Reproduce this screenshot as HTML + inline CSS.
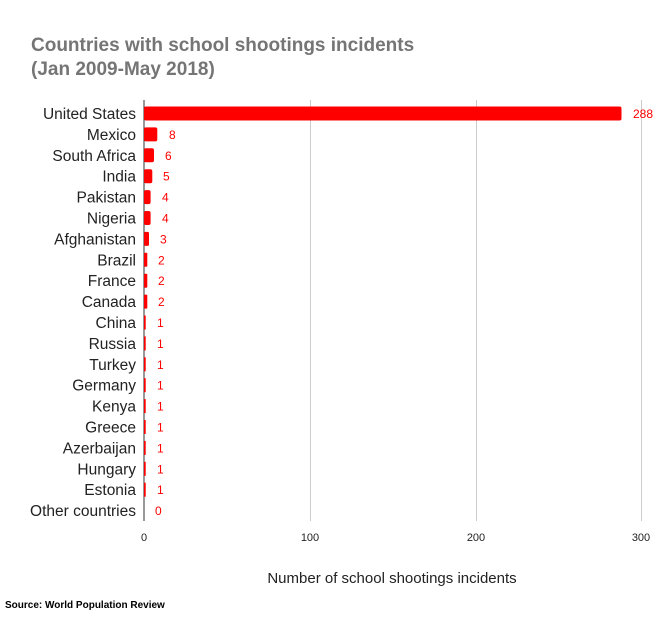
<!DOCTYPE html>
<html><head><style>body{margin:0;background:#fff}svg{display:block}</style></head><body>
<svg width="672" height="618" xmlns="http://www.w3.org/2000/svg" font-family="Liberation Sans, Arial, sans-serif">
<text x="31" y="51" font-size="19" font-weight="bold" fill="#757575">Countries with school shootings incidents</text>
<text x="31" y="75" font-size="19" font-weight="bold" fill="#757575">(Jan 2009-May 2018)</text>
<g stroke="#ccc" stroke-width="1">
<line x1="310.5" y1="100" x2="310.5" y2="521"/>
<line x1="476.5" y1="100" x2="476.5" y2="521"/>
<line x1="641.5" y1="100" x2="641.5" y2="521"/>
</g>
<line x1="144" y1="100" x2="144" y2="521" stroke="#333" stroke-width="1"/>
<g font-size="11" fill="#222" text-anchor="middle">
<text x="144" y="541">0</text><text x="310" y="541">100</text><text x="476" y="541">200</text><text x="641" y="541">300</text>
</g>
<text x="392" y="583" font-size="15" fill="#222" text-anchor="middle">Number of school shootings incidents</text>
<text x="5" y="608" font-size="10" font-weight="bold" fill="#000">Source: World Population Review</text>
<g font-size="15.5" fill="#222" text-anchor="end">
<text x="136" y="119">United States</text>
<text x="136" y="139.9">Mexico</text>
<text x="136" y="160.8">South Africa</text>
<text x="136" y="181.7">India</text>
<text x="136" y="202.6">Pakistan</text>
<text x="136" y="223.5">Nigeria</text>
<text x="136" y="244.4">Afghanistan</text>
<text x="136" y="265.3">Brazil</text>
<text x="136" y="286.2">France</text>
<text x="136" y="307.1">Canada</text>
<text x="136" y="328">China</text>
<text x="136" y="348.9">Russia</text>
<text x="136" y="369.8">Turkey</text>
<text x="136" y="390.7">Germany</text>
<text x="136" y="411.6">Kenya</text>
<text x="136" y="432.5">Greece</text>
<text x="136" y="453.4">Azerbaijan</text>
<text x="136" y="474.3">Hungary</text>
<text x="136" y="495.2">Estonia</text>
<text x="136" y="516.1">Other countries</text>
</g>
<g fill="#ff0000">
<rect x="144" y="106.5" width="477.5" height="14" rx="2"/>
<rect x="144" y="127.4" width="13.3" height="14" rx="2"/>
<rect x="144" y="148.3" width="10" height="14" rx="2"/>
<rect x="144" y="169.2" width="8.3" height="14" rx="2"/>
<rect x="144" y="190.1" width="6.6" height="14" rx="2"/>
<rect x="144" y="211" width="6.6" height="14" rx="2"/>
<rect x="144" y="231.9" width="5" height="14" rx="1.5"/>
<rect x="144" y="252.8" width="3.3" height="14" rx="1"/>
<rect x="144" y="273.7" width="3.3" height="14" rx="1"/>
<rect x="144" y="294.6" width="3.3" height="14" rx="1"/>
<rect x="144" y="315.5" width="1.7" height="14"/>
<rect x="144" y="336.4" width="1.7" height="14"/>
<rect x="144" y="357.3" width="1.7" height="14"/>
<rect x="144" y="378.2" width="1.7" height="14"/>
<rect x="144" y="399.1" width="1.7" height="14"/>
<rect x="144" y="420" width="1.7" height="14"/>
<rect x="144" y="440.9" width="1.7" height="14"/>
<rect x="144" y="461.8" width="1.7" height="14"/>
<rect x="144" y="482.7" width="1.7" height="14"/>
</g>
<g font-size="12" fill="#ff0000">
<text x="633" y="118">288</text>
<text x="169" y="138.9">8</text>
<text x="165" y="159.8">6</text>
<text x="163" y="180.7">5</text>
<text x="162" y="201.6">4</text>
<text x="162" y="222.5">4</text>
<text x="160" y="243.4">3</text>
<text x="158" y="264.3">2</text>
<text x="158" y="285.2">2</text>
<text x="158" y="306.1">2</text>
<text x="157" y="327">1</text>
<text x="157" y="347.9">1</text>
<text x="157" y="368.8">1</text>
<text x="157" y="389.7">1</text>
<text x="157" y="410.6">1</text>
<text x="157" y="431.5">1</text>
<text x="157" y="452.4">1</text>
<text x="157" y="473.3">1</text>
<text x="157" y="494.2">1</text>
<text x="155" y="515.1">0</text>
</g>
</svg>
</body></html>
